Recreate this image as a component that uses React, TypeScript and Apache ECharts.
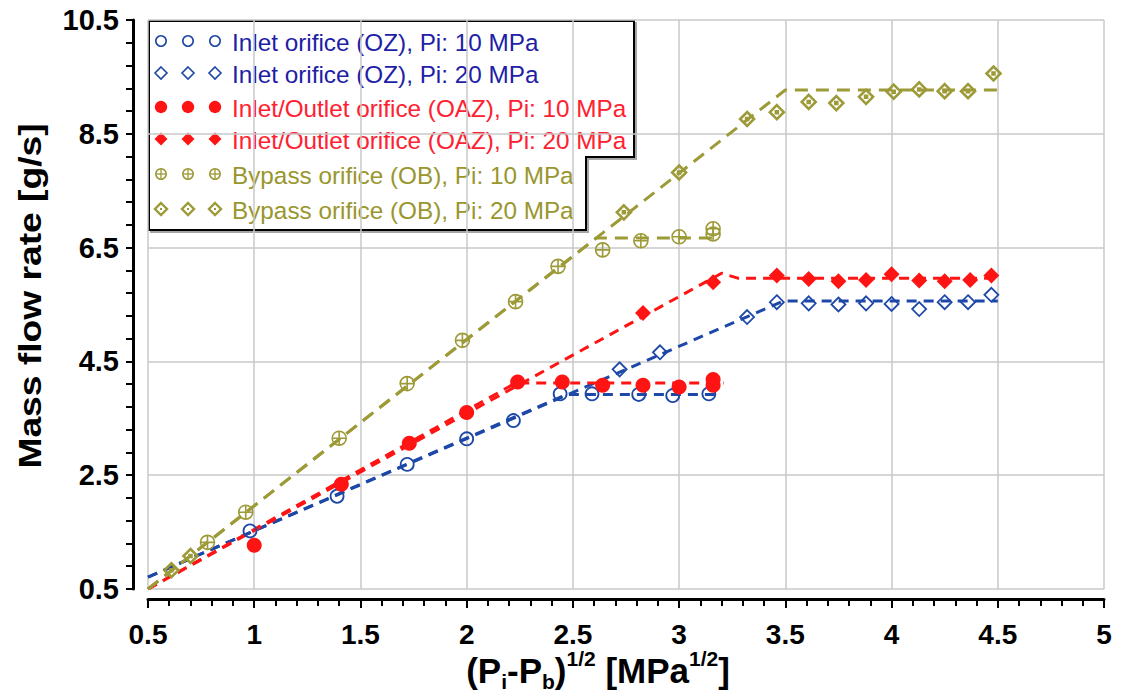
import { useEffect, useRef } from 'react';
import * as echarts from 'echarts';

const FONT = '"Liberation Sans", Arial, Helvetica, sans-serif';

// Axis ranges and ticks
const xMin = 0.5;
const xMax = 5;
const xStep = 0.5;
const yMin = 0.5;
const yMax = 10.5;
const yTickValues = [0.5, 2.5, 4.5, 6.5, 8.5, 10.5];
const yMinorTickValues = [
  0.9, 1.3, 1.7, 2.1, 2.9, 3.3, 3.7, 4.1, 4.9, 5.3, 5.7, 6.1, 6.9, 7.3, 7.7, 8.1, 8.9, 9.3, 9.7, 10.1,
];

// Series names
const names = [
  'Inlet orifice (OZ), Pi: 10 MPa',
  'Inlet orifice (OZ), Pi: 20 MPa',
  'Inlet/Outlet orifice (OAZ), Pi: 10 MPa',
  'Inlet/Outlet orifice (OAZ), Pi: 20 MPa',
  'Bypass orifice (OB), Pi: 10 MPa',
  'Bypass orifice (OB), Pi: 20 MPa',
];

// Measured points: [sqrt(Pi - Pb), mass flow rate]
const ozP10 = [
  [0.98, 1.52], [1.39, 2.13], [1.72, 2.69], [2.0, 3.14], [2.22, 3.46],
  [2.44, 3.93], [2.59, 3.93], [2.81, 3.92], [2.97, 3.9], [3.14, 3.93],
];
const ozP20 = [
  [2.72, 4.36], [2.91, 4.66], [3.32, 5.28], [3.46, 5.54], [3.61, 5.52], [3.75, 5.5],
  [3.88, 5.52], [4.0, 5.51], [4.13, 5.42], [4.25, 5.54], [4.36, 5.54], [4.47, 5.67],
];
const oazP10 = [
  [1.0, 1.27], [1.41, 2.34], [1.73, 3.06], [2.0, 3.6], [2.24, 4.14], [2.45, 4.14],
  [2.64, 4.08], [2.83, 4.08], [3.0, 4.05], [3.16, 4.18], [3.16, 4.08],
];
const oazP20 = [
  [2.83, 5.35], [3.16, 5.89], [3.46, 6.01], [3.61, 5.95], [3.75, 5.91], [3.88, 5.93],
  [4.0, 6.03], [4.13, 5.92], [4.25, 5.91], [4.37, 5.93], [4.47, 6.01],
];
const obP10 = [
  [0.78, 1.32], [0.96, 1.85], [1.4, 3.15], [1.72, 4.11], [1.98, 4.87], [2.23, 5.55],
  [2.43, 6.17], [2.64, 6.46], [2.82, 6.62], [3.0, 6.69], [3.16, 6.74], [3.16, 6.83],
];
const obP20 = [
  [0.61, 0.83], [0.7, 1.08], [2.74, 7.12], [3.0, 7.82], [3.32, 8.76], [3.46, 8.88],
  [3.61, 9.06], [3.74, 9.04], [3.88, 9.15], [4.01, 9.24], [4.13, 9.28], [4.25, 9.25],
  [4.36, 9.25], [4.48, 9.56],
];

// Piecewise-linear fits (rise, then choked plateau)
const ozFit10 = [[0.5, 0.71], [2.47, 3.92], [3.2, 3.92]];
const ozFit20 = [[0.5, 0.71], [3.49, 5.56], [4.5, 5.56]];
const oazFit10 = [[0.5, 0.5], [2.23, 4.12], [3.21, 4.12]];
const oazFit20 = [[0.5, 0.5], [3.2, 6.05], [3.28, 5.96], [4.5, 5.96]];
const obFit10 = [[0.5, 0.5], [2.61, 6.67], [3.17, 6.67]];
const obFit20 = [[0.5, 0.5], [3.5, 9.27], [4.5, 9.27]];

const BLUE = '#1d48a8';
const BLUE_TEXT = '#1e1ea6';
const RED = '#ff1414';
const RED_TEXT = '#ff2030';
const OLIVE = '#9d9a38';
const OLIVE_TEXT = '#99962e';

const CROSS_CIRCLE = 'path://M10,0A10,10,0,1,1,-10,0A10,10,0,1,1,10,0ZM-10,0L10,0M0,-10L0,10';
const DOT_DIAMOND = 'path://M0,-10L10,0L0,10L-10,0ZM-1.4,-1.4L1.4,-1.4L1.4,1.4L-1.4,1.4Z';

const HOLLOW = 'rgba(0,0,0,0)';

function fitLine(data: number[][], color: string, dash: number[]) {
  return {
    type: 'line',
    data,
    symbol: 'none',
    silent: true,
    z: 3,
    lineStyle: { color, width: 3, type: dash },
  };
}

function points(
  name: string,
  data: number[][],
  symbol: string,
  size: number,
  fill: string,
  stroke: string,
  strokeWidth: number,
) {
  return {
    type: 'scatter',
    name,
    data,
    symbol,
    symbolSize: size,
    z: 5,
    itemStyle: { color: fill, borderColor: stroke, borderWidth: strokeWidth, opacity: 1 },
  };
}

// Legend markers (three per row) drawn as graphic shapes
function legendMarker(kind: string, cx: number, cy: number) {
  const r = 5.2;
  const diamond = [[cx, cy - r - 0.8], [cx + r + 0.8, cy], [cx, cy + r + 0.8], [cx - r - 0.8, cy]];
  switch (kind) {
    case 'ozc':
      return { type: 'circle', shape: { cx, cy, r }, style: { fill: 'none', stroke: BLUE, lineWidth: 1.6 } };
    case 'ozd':
      return { type: 'polygon', shape: { points: diamond }, style: { fill: 'none', stroke: BLUE, lineWidth: 1.6 } };
    case 'oazc':
      return { type: 'circle', shape: { cx, cy, r: 6.2 }, style: { fill: RED } };
    case 'oazd':
      return {
        type: 'polygon',
        shape: { points: [[cx, cy - 6.5], [cx + 6.5, cy], [cx, cy + 6.5], [cx - 6.5, cy]] },
        style: { fill: RED },
      };
    case 'obc':
      return {
        type: 'group',
        children: [
          { type: 'circle', shape: { cx, cy, r }, style: { fill: 'none', stroke: OLIVE, lineWidth: 1.5 } },
          { type: 'line', shape: { x1: cx - r, y1: cy, x2: cx + r, y2: cy }, style: { stroke: OLIVE, lineWidth: 1.3 } },
          { type: 'line', shape: { x1: cx, y1: cy - r, x2: cx, y2: cy + r }, style: { stroke: OLIVE, lineWidth: 1.3 } },
        ],
      };
    default:
      return {
        type: 'group',
        children: [
          { type: 'polygon', shape: { points: diamond }, style: { fill: 'none', stroke: OLIVE, lineWidth: 2.4 } },
          { type: 'rect', shape: { x: cx - 1, y: cy - 1, width: 2, height: 2 }, style: { fill: OLIVE } },
        ],
      };
  }
}

const legendKinds = ['ozc', 'ozd', 'oazc', 'oazd', 'obc', 'obd'];
const legendColors = [BLUE_TEXT, BLUE_TEXT, RED_TEXT, RED_TEXT, OLIVE_TEXT, OLIVE_TEXT];
const legendRowY = [41, 73, 107, 139, 174, 209];
const legendMarkerX = [161, 188, 215];

function buildLegend() {
  const children: any[] = [
    {
      type: 'polygon',
      shape: { points: [[149, 21], [634, 21], [634, 157], [586, 157], [586, 230], [149, 230]] },
      style: {
        fill: '#fff',
        stroke: '#000',
        lineWidth: 2,
        shadowColor: 'rgba(0,0,0,0.35)',
        shadowOffsetX: 2,
        shadowOffsetY: 2,
      },
    },
  ];
  names.forEach((name, i) => {
    legendMarkerX.forEach((mx) => children.push(legendMarker(legendKinds[i], mx, legendRowY[i])));
    children.push({
      type: 'text',
      x: 232,
      y: legendRowY[i] + 1,
      style: {
        text: name,
        fill: legendColors[i],
        fontSize: 24.3,
        fontFamily: FONT,
        verticalAlign: 'middle',
        align: 'left',
      },
    });
  });
  return { type: 'group', z: 100, children };
}

export default function App() {
  const ref = useRef<HTMLDivElement>(null);

  useEffect(() => {
    if (!ref.current) return;
    const chart = echarts.init(ref.current, undefined, { renderer: 'svg' });

    const axisBlack = { color: '#000', width: 3 };
    const option: any = {
      animation: false,
      backgroundColor: '#fff',
      grid: { left: 148, right: 17, top: 20, bottom: 108 },
      xAxis: {
        type: 'value',
        min: xMin,
        max: xMax,
        interval: xStep,
        offset: 10,
        axisLine: { show: true, lineStyle: axisBlack },
        axisTick: { show: true, length: 9, lineStyle: { color: '#000', width: 2 } },
        minorTick: { show: true, splitNumber: 5, length: 7, lineStyle: { color: '#000', width: 2 } },
        axisLabel: {
          color: '#000',
          fontSize: 28,
          fontWeight: 'bold',
          fontFamily: FONT,
          margin: 21,
        },
        splitLine: { show: true, lineStyle: { color: '#c9c9c9', width: 1.5 } },
      },
      yAxis: [
        {
          type: 'value',
          min: yMin,
          max: yMax,
          position: 'left',
          offset: 15,
          axisLine: { show: true, lineStyle: axisBlack },
          axisTick: { show: true, length: 7, customValues: yTickValues, lineStyle: { color: '#000', width: 2 } },
          axisLabel: {
            customValues: yTickValues,
            color: '#000',
            fontSize: 29,
            fontWeight: 'bold',
            fontFamily: FONT,
            margin: 14,
            formatter: (v: number) => v.toFixed(1),
          },
          splitLine: { show: true, lineStyle: { color: '#c9c9c9', width: 1.5 } },
        },
        {
          type: 'value',
          min: yMin,
          max: yMax,
          position: 'left',
          offset: 15,
          axisLine: { show: false },
          axisTick: { show: true, length: 7, customValues: yMinorTickValues, lineStyle: { color: '#000', width: 2 } },
          axisLabel: { show: false },
          splitLine: { show: false },
        },
      ],
      series: [
        fitLine(ozFit10, BLUE, [10, 7]),
        fitLine(ozFit20, BLUE, [10, 7]),
        fitLine(oazFit10, RED, [10, 7]),
        fitLine(oazFit20, RED, [10, 7]),
        fitLine(obFit10, OLIVE, [13, 8]),
        fitLine(obFit20, OLIVE, [13, 8]),
        points(names[0], ozP10, 'circle', 13, HOLLOW, BLUE, 1.8),
        points(names[1], ozP20, 'diamond', 14, HOLLOW, BLUE, 1.8),
        points(names[2], oazP10, 'circle', 15, RED, RED, 0),
        points(names[3], oazP20, 'diamond', 16, RED, RED, 0),
        points(names[4], obP10, CROSS_CIRCLE, 14, HOLLOW, OLIVE, 1.6),
        points(names[5], obP20, DOT_DIAMOND, 14, HOLLOW, OLIVE, 2.6),
      ],
      graphic: [
        buildLegend(),
        {
          type: 'text',
          x: 30,
          y: 296,
          rotation: Math.PI / 2,
          scaleX: 1.2,
          style: {
            text: 'Mass flow rate [g/s]',
            fill: '#000',
            fontSize: 31,
            fontWeight: 'bold',
            fontFamily: FONT,
            align: 'center',
            verticalAlign: 'middle',
          },
        },
        {
          type: 'text',
          x: 598,
          y: 670,
          style: {
            text: '{b|(P}{s|i}{b|-P}{s|b}{b|)}{p|1/2}{b| [MPa}{p|1/2}{b|]}',
            align: 'center',
            verticalAlign: 'middle',
            rich: {
              b: { fontSize: 35, fontWeight: 'bold', fontFamily: FONT, fill: '#000', lineHeight: 44 },
              s: { fontSize: 21, fontWeight: 'bold', fontFamily: FONT, fill: '#000', lineHeight: 18, verticalAlign: 'bottom' },
              p: { fontSize: 21, fontWeight: 'bold', fontFamily: FONT, fill: '#000', lineHeight: 18, verticalAlign: 'top' },
            },
          },
        },
      ],
    };

    chart.setOption(option);
    return () => chart.dispose();
  }, []);

  return (
    <div
      ref={ref}
      style={{ position: 'absolute', left: 0, top: 0, width: 1121, height: 697, background: '#fff' }}
    />
  );
}
